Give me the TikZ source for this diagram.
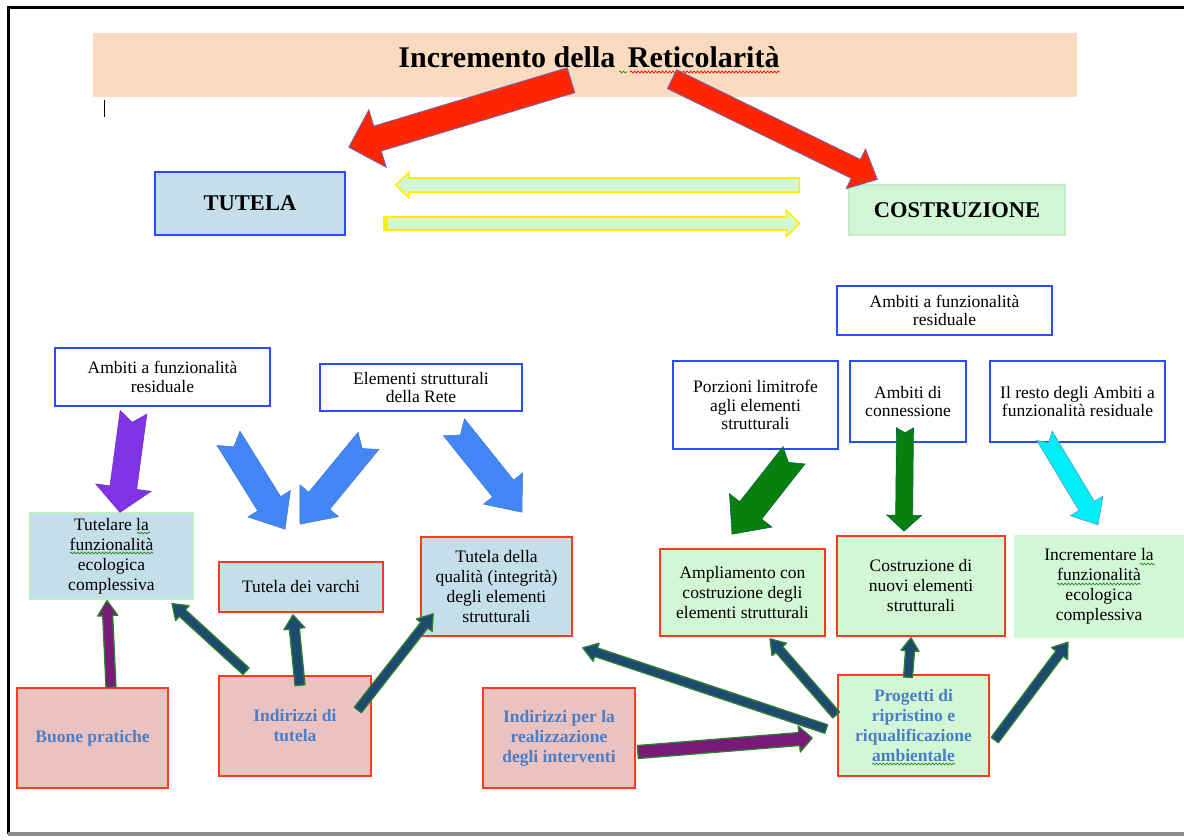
\documentclass[tikz,border=0pt]{standalone}
\usepackage{fontspec}
\setmainfont{Liberation Serif}
\usetikzlibrary{calc,decorations.pathmorphing}
\definecolor{peach}{HTML}{FADBC0}
\definecolor{lblue}{HTML}{C4DFEA}
\definecolor{lgreen}{HTML}{D2F7D4}
\definecolor{pinkf}{HTML}{EBC2C2}
\definecolor{redb}{HTML}{FF3B1F}
\definecolor{blueb}{HTML}{2A4BFF}
\definecolor{greenb}{HTML}{C2EEC6}
\definecolor{redarrow}{HTML}{FF2600}
\definecolor{bluearrow}{HTML}{4287F5}
\definecolor{purplearrow}{HTML}{7F35E5}
\definecolor{greenarrow}{HTML}{08800F}
\definecolor{cyanarrow}{HTML}{00EEF6}
\definecolor{darkarrow}{HTML}{1F4A70}
\definecolor{darkoutline}{HTML}{2D802D}
\definecolor{plumarrow}{HTML}{7A1A78}
\definecolor{yelb}{HTML}{FFF000}
\definecolor{boldblue}{HTML}{4A7EC7}
\definecolor{squig}{HTML}{1E8A1E}
\newcommand\fatarrow[7]{%
  \draw[#1] let \p1=(#2), \p2=(#3), \n1={atan2(\y2-\y1,\x2-\x1)}, \n2={veclen(\x2-\x1,\y2-\y1)} in
    ($(\p1)+({\n1+90}:#4pt)$) -- ($(\p1)+({\n1}:#7pt)$) -- ($(\p1)+({\n1-90}:#4pt)$)
    -- ($(\p1)+({\n1}:{\n2-#6pt})+({\n1-90}:#4pt)$)
    -- ($(\p1)+({\n1}:{\n2-#6pt})+({\n1-90}:#5pt)$)
    -- (\p2)
    -- ($(\p1)+({\n1}:{\n2-#6pt})+({\n1+90}:#5pt)$)
    -- ($(\p1)+({\n1}:{\n2-#6pt})+({\n1+90}:#4pt)$) -- cycle;}
\tikzset{
  boxtext/.style={align=center, inner sep=0pt, font=\fontsize{17.5}{18.5}\selectfont},
  tallbox/.style={font=\fontsize{17.5}{20}\selectfont},
  whitebox/.style={boxtext, draw=blueb, line width=1.6pt, fill=white},
  tblue/.style={boxtext, draw=redb, line width=1.6pt, fill=lblue},
  tgreen/.style={boxtext, draw=redb, line width=1.6pt, fill=lgreen},
  pinkbox/.style={align=center, inner sep=0pt, draw=redb, line width=1.6pt, fill=pinkf,
     text=boldblue, font=\fontsize{17.5}{20}\selectfont\bfseries},
  redfat/.style={fill=redarrow, draw=black!40!blue!60, line width=0.8pt},
  bluefat/.style={fill=bluearrow, draw=bluearrow!85!black, line width=0.5pt},
  purplefat/.style={fill=purplearrow, draw=purplearrow!85!black, line width=0.5pt},
  greenfat/.style={fill=greenarrow, draw=greenarrow!80!blue, line width=0.6pt},
  cyanfat/.style={fill=cyanarrow, draw=cyan!60!blue!70, line width=0.6pt},
  darkthin/.style={fill=darkarrow, draw=darkoutline, line width=1.3pt, line join=round},
  plumthin/.style={fill=plumarrow, draw=darkoutline, line width=1.3pt, line join=round},
  yellowarrow/.style={fill=lgreen, draw=yelb, line width=1.6pt},
  greensquig/.style={squig, line width=0.7pt, decorate, decoration={snake, amplitude=0.9pt, segment length=3.5pt}},
  redsquig/.style={red, line width=0.7pt, decorate, decoration={snake, amplitude=1pt, segment length=3.5pt}}
}
\begin{document}
\begin{tikzpicture}[x=1pt,y=-1pt]
\useasboundingbox (0,0) rectangle (1184,839);
\fill[white] (0,0) rectangle (1184,839);
% frame
\draw[line width=3pt, black] (1184,7) -- (8,7) -- (8,834);
\draw[line width=4pt, black!45] (8,834) -- (1184,834);
% cursor
\draw[line width=1pt] (104,100) -- (104,117);

% banner
\node[fill=peach, minimum width=984pt, minimum height=64pt, inner sep=0pt] (banner) at (585,65) {};
\node[font=\fontsize{30}{33}\selectfont\bfseries, inner sep=0pt] (title) at (589,57) {Incremento della\, Reticolarità};
\draw[redsquig] (630,72) -- (780,72);
\draw[greensquig] (619,72) -- (627,72);

% top level boxes
\node[fill=lblue, draw=blueb, line width=1.6pt, minimum width=190pt, minimum height=63pt, inner sep=0pt,
      font=\fontsize{22.5}{25}\selectfont\bfseries] (tutela) at (250,203.5) {TUTELA};
\node[fill=lgreen, draw=greenb, line width=1.2pt, minimum width=216pt, minimum height=50pt, inner sep=0pt,
      font=\fontsize{22.5}{25}\selectfont\bfseries] (costr) at (957,210) {COSTRUZIONE};

% source boxes
\node[whitebox, minimum width=215pt, minimum height=49pt] (ambR) at (944.5,310.5) {Ambiti a funzionalità\\residuale};
\node[whitebox, minimum width=215pt, minimum height=58pt] (ambL) at (162.5,377) {Ambiti a funzionalità\\residuale};
\node[whitebox, minimum width=202pt, minimum height=47pt] (elem) at (421,387.5) {Elementi strutturali\\della Rete};
\node[whitebox, minimum width=165pt, minimum height=88pt] (porz) at (755.5,405) {Porzioni limitrofe\\agli elementi\\strutturali};
\node[whitebox, minimum width=116pt, minimum height=81pt] (ambconn) at (908,401.5) {Ambiti di\\connessione};
\node[whitebox, minimum width=175pt, minimum height=81pt] (resto) at (1077.5,401.5) {Il resto degli Ambiti a\\funzionalità residuale};

% target boxes
\node[boxtext, tallbox, fill=lblue, draw=greenb, line width=1.2pt, minimum width=163pt, minimum height=86pt] (tutelare) at (111.5,556) {Tutelare la\\funzionalità\\ecologica\\complessiva};
\node[tblue, minimum width=164pt, minimum height=50pt] (varchi) at (301,587) {Tutela dei varchi};
\node[tblue, tallbox, minimum width=151pt, minimum height=99pt] (qualita) at (496.5,586.5) {Tutela della\\qualità (integrità)\\degli elementi\\strutturali};
\node[tgreen, tallbox, minimum width=165pt, minimum height=87pt] (ampl) at (742.5,592.5) {Ampliamento con\\costruzione degli\\elementi strutturali};
\node[tgreen, tallbox, minimum width=168pt, minimum height=100pt] (costrnuovi) at (921,586) {Costruzione di\\nuovi elementi\\strutturali};
\node[boxtext, tallbox, fill=lgreen, minimum width=170pt, minimum height=103pt] (increm) at (1099,586.5) {Incrementare la\\funzionalità\\ecologica\\complessiva};

% bottom boxes
\node[pinkbox, minimum width=151pt, minimum height=100pt] (buone) at (92.5,738) {Buone pratiche};
\node[pinkbox, minimum width=152pt, minimum height=100pt] (indtut) at (295,726) {Indirizzi di\\tutela};
\node[pinkbox, minimum width=152pt, minimum height=100pt] (indreal) at (559,738) {Indirizzi per la\\realizzazione\\degli interventi};
\node[pinkbox, fill=lgreen, minimum width=151pt, minimum height=101pt] (progetti) at (913.5,725.5) {Progetti di\\ripristino e\\riqualificazione\\ambientale};

% spelling marks
\draw[greensquig] (137,533) -- (150,533);
\draw[greensquig] (70,553) -- (153,553);
\draw[greensquig] (1140,564) -- (1155,564);
\draw[greensquig] (1057,584) -- (1141,584);
\draw[greensquig] (872,764) -- (955,764);

% red arrows from banner
\fatarrow{redfat}{$(banner.south)+(-14,-17)$}{$(tutela.north east)+(3,-24)$}{13}{30}{30}{0}
\fatarrow{redfat}{$(banner.south)+(87,-18)$}{$(costr.north west)+(29,-5)$}{10.5}{22}{24}{0}

% yellow arrows between TUTELA and COSTRUZIONE
\fatarrow{yellowarrow}{$(costr.west)+(-49,-25)$}{$(tutela.east)+(50,-18.5)$}{7}{12.5}{13}{0}
\fatarrow{yellowarrow}{$(tutela.east)+(38,20)$}{$(costr.west)+(-49,13.5)$}{6.5}{13}{13}{0}
\fill[yelb] ($(tutela.east)+(37,13)$) rectangle ($(tutela.east)+(42,27)$);

% fat arrows, left half
\fatarrow{purplefat}{$(ambL.south)+(-29,5.5)$}{$(tutelare.north)+(8.5,0)$}{13.5}{28}{25}{10}
\fatarrow{bluefat}{$(elem.south)+(-192.5,26.5)$}{$(varchi.north)+(-16,-32)$}{13.5}{25}{30}{10}
\fatarrow{bluefat}{$(elem.south)+(-52.5,29)$}{$(varchi.north)+(-1,-37)$}{13.5}{25}{30}{10}
\fatarrow{bluefat}{$(elem.south)+(33,15.5)$}{$(qualita.north)+(25.5,-24)$}{13.5}{25}{30}{10}

% fat arrows, right half
\fatarrow{greenfat}{$(porz.south)+(38.5,5.5)$}{$(ampl.north)+(-10.5,-14)$}{14}{27}{30}{9}
\fatarrow{greenfat}{$(ambconn.south)+(-3,-15)$}{$(costrnuovi.north)+(-17,-4)$}{8.5}{17.5}{16}{5}
\fatarrow{cyanfat}{$(resto.south)+(-33,-7)$}{$(increm.north)+(-1,-10)$}{9}{19}{22}{8}

% thin arrows
\fatarrow{plumthin}{$(buone.north)+(18.5,0)$}{$(tutelare.south)+(-4.5,1)$}{5}{10}{15}{0}
\fatarrow{darkthin}{$(indtut.north)+(-49,-4)$}{$(tutelare.south)+(60.5,4)$}{4.5}{10}{14}{0}
\fatarrow{darkthin}{$(indtut.north)+(5,10)$}{$(varchi.south)+(-8,2)$}{5}{10.5}{14}{0}
\fatarrow{darkthin}{$(indtut.east)+(-14,-16)$}{$(qualita.south west)+(13,-23)$}{4.5}{10}{14}{0}
\fatarrow{darkthin}{$(progetti.west)+(-11,3.5)$}{$(qualita.south east)+(10,11)$}{4.5}{9.5}{14}{0}
\fatarrow{darkthin}{$(progetti.west)+(-1,-10.5)$}{$(ampl.south)+(27.5,2)$}{4.5}{9.5}{14}{0}
\fatarrow{darkthin}{$(progetti.north)+(-5.5,3)$}{$(costrnuovi.south)+(-10,1)$}{4.5}{9}{13}{0}
\fatarrow{darkthin}{$(progetti.east)+(5,14.5)$}{$(increm.south)+(-31,4)$}{4.5}{10}{14}{0}
\fatarrow{plumthin}{$(indreal.east)+(2,14)$}{$(progetti.west)+(-25,12.5)$}{6.5}{13}{13}{0}
\end{tikzpicture}
\end{document}
